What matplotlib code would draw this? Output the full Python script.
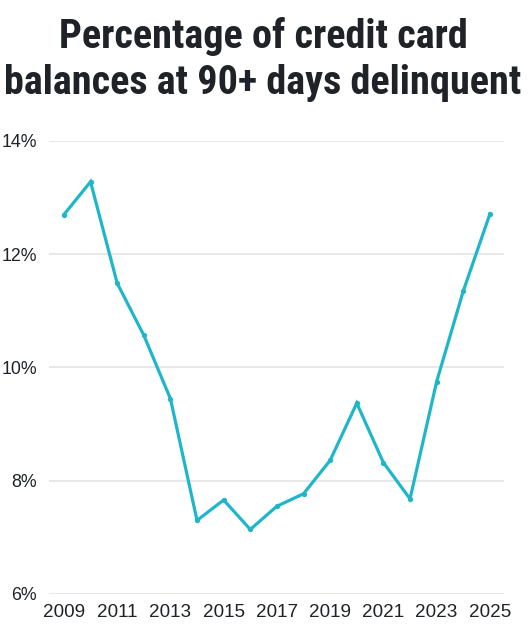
import matplotlib
matplotlib.use("Agg")
import matplotlib.pyplot as plt
from matplotlib import font_manager

# data
years = [2009, 2010, 2011, 2012, 2013, 2014, 2015, 2016, 2017,
         2018, 2019, 2020, 2021, 2022, 2023, 2024, 2025]
pct = [12.70, 13.28, 11.49, 10.57, 9.45, 7.30, 7.66, 7.14, 7.55,
       7.77, 8.36, 9.37, 8.32, 7.68, 9.75, 11.35, 12.71]
xticks = [2009, 2011, 2013, 2015, 2017, 2019, 2021, 2023, 2025]
yticks = [6, 8, 10, 12, 14]
title_lines = ["Percentage of credit card", "balances at 90+ days delinquent"]

line_color = "#1fb6ca"
text_color = "#1f2227"
grid_color = "#e2e2e2"


def pick_font(names):
    for n in names:
        try:
            font_manager.findfont(font_manager.FontProperties(family=n, weight="bold"),
                                  fallback_to_default=False)
            return n
        except Exception:
            pass
    return "DejaVu Sans"


title_font = pick_font(["Liberation Sans Narrow", "Roboto Condensed", "Roboto", "Liberation Sans"])
tick_font = pick_font(["Liberation Sans", "Roboto"])

W, H = 530, 634
fig = plt.figure(figsize=(W / 100, H / 100), dpi=100)
ax = fig.add_axes([49 / W, (H - 594) / H, 455 / W, 453 / H])

ax.plot(years, pct, color=line_color, lw=2.3, marker="o", ms=3.8,
        markeredgewidth=0, solid_joinstyle="miter", zorder=3)

ax.set_xlim(2008.44, 2025.53)
ax.set_ylim(6, 14)
ax.set_xticks(xticks)
ax.set_xticklabels([str(y) for y in xticks])
ax.set_yticks(yticks)
ax.set_yticklabels([f"{v}%" for v in yticks])

ax.yaxis.grid(True, color=grid_color, lw=1.1, zorder=1)
ax.xaxis.grid(False)
for s in ax.spines.values():
    s.set_visible(False)
ax.tick_params(axis="both", length=0, labelcolor=text_color)
ax.tick_params(axis="x", pad=7.5, labelsize=13.6)
ax.tick_params(axis="y", pad=8.6, labelsize=12.8)
for lab in ax.get_xticklabels() + ax.get_yticklabels():
    lab.set_fontfamily(tick_font)

# title, two lines, scaled to fit the width of the second line
t1 = fig.text(0.497, 1 - 48 / H, title_lines[0], ha="center", va="baseline",
              fontsize=20, fontweight="bold", color=text_color, family=title_font)
t2 = fig.text(0.496, 1 - 94 / H, title_lines[1], ha="center", va="baseline",
              fontsize=20, fontweight="bold", color=text_color, family=title_font)
r = fig.canvas.get_renderer()
w2 = t2.get_window_extent(r).width
size = 20 * 518 / w2
t1.set_fontsize(size)
t2.set_fontsize(size)

fig.savefig("out.png", dpi=100)
